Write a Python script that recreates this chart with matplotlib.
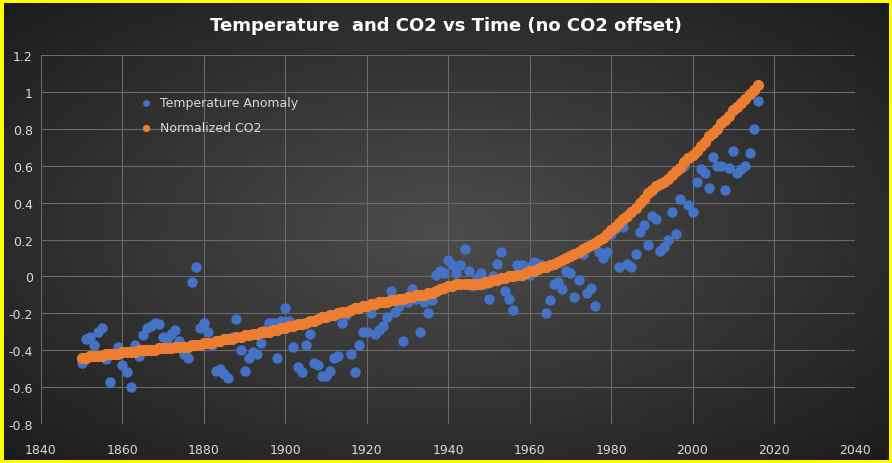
import matplotlib
matplotlib.use("Agg")
import matplotlib.pyplot as plt
import numpy as np
from matplotlib.patches import Rectangle

years = list(range(1850, 2017))

temp_anomaly = [
    -0.47, -0.34, -0.33, -0.37, -0.30, -0.28, -0.45, -0.57, -0.42, -0.38,
    -0.48, -0.52, -0.60, -0.37, -0.43, -0.32, -0.28, -0.27, -0.25, -0.26,
    -0.33, -0.34, -0.31, -0.29, -0.35, -0.42, -0.44, -0.03, 0.05, -0.28,
    -0.25, -0.30, -0.37, -0.51, -0.50, -0.53, -0.55, -0.33, -0.23, -0.40,
    -0.51, -0.44, -0.41, -0.42, -0.36, -0.29, -0.25, -0.25, -0.44, -0.24,
    -0.17, -0.24, -0.38, -0.49, -0.52, -0.37, -0.31, -0.47, -0.48, -0.54,
    -0.54, -0.51, -0.44, -0.43, -0.25, -0.21, -0.42, -0.52, -0.37, -0.30,
    -0.30, -0.20, -0.31, -0.29, -0.27, -0.22, -0.08, -0.19, -0.16, -0.35,
    -0.14, -0.07, -0.12, -0.30, -0.14, -0.20, -0.13, 0.01, 0.03, 0.02,
    0.09, 0.06, 0.02, 0.06, 0.15, 0.03, -0.05, -0.01, 0.02, -0.04,
    -0.12, 0.00, 0.07, 0.13, -0.08, -0.12, -0.18, 0.06, 0.06, 0.05,
    0.01, 0.08, 0.07, 0.06, -0.20, -0.13, -0.04, -0.03, -0.07, 0.03,
    0.02, -0.11, -0.02, 0.12, -0.09, -0.06, -0.16, 0.13, 0.10, 0.13,
    0.23, 0.26, 0.05, 0.27, 0.07, 0.05, 0.12, 0.24, 0.28, 0.17,
    0.33, 0.31, 0.14, 0.16, 0.20, 0.35, 0.23, 0.42, 0.60, 0.39,
    0.35, 0.51, 0.58, 0.56, 0.48, 0.65, 0.60, 0.60, 0.47, 0.59,
    0.68, 0.56, 0.58, 0.60, 0.67, 0.80, 0.95,
]

co2_norm = [
    -0.44, -0.44, -0.43, -0.43, -0.43, -0.43, -0.42, -0.42, -0.42, -0.42,
    -0.41, -0.41, -0.41, -0.41, -0.40, -0.40, -0.40, -0.40, -0.40, -0.39,
    -0.39, -0.39, -0.39, -0.38, -0.38, -0.38, -0.38, -0.37, -0.37, -0.37,
    -0.36, -0.36, -0.36, -0.35, -0.35, -0.34, -0.34, -0.34, -0.33, -0.33,
    -0.32, -0.32, -0.31, -0.31, -0.30, -0.30, -0.30, -0.29, -0.29, -0.28,
    -0.28, -0.27, -0.27, -0.26, -0.26, -0.25, -0.24, -0.24, -0.23, -0.22,
    -0.22, -0.21, -0.21, -0.20, -0.19, -0.19, -0.18, -0.17, -0.17, -0.16,
    -0.16, -0.15, -0.15, -0.14, -0.14, -0.14, -0.13, -0.13, -0.12, -0.12,
    -0.11, -0.11, -0.10, -0.10, -0.10, -0.09, -0.09, -0.08, -0.07, -0.06,
    -0.05, -0.05, -0.04, -0.04, -0.04, -0.04, -0.04, -0.04, -0.04, -0.03,
    -0.03, -0.02, -0.02, -0.01, -0.01, 0.00, 0.00, 0.01, 0.01, 0.02,
    0.03, 0.03, 0.04, 0.05, 0.05, 0.06, 0.07, 0.08, 0.09, 0.10,
    0.11, 0.12, 0.13, 0.15, 0.16, 0.17, 0.18, 0.20, 0.21, 0.23,
    0.25, 0.27, 0.29, 0.31, 0.33, 0.35, 0.37, 0.40, 0.42, 0.45,
    0.47, 0.49, 0.50, 0.51, 0.53, 0.55, 0.57, 0.59, 0.62, 0.64,
    0.66, 0.68, 0.71, 0.73, 0.76, 0.78, 0.80, 0.83, 0.85, 0.87,
    0.90, 0.92, 0.94, 0.96, 0.99, 1.01, 1.04,
]

x_ticks = list(range(1840, 2041, 20))
y_ticks = [round(-0.8 + 0.2 * i, 1) for i in range(11)]

fig = plt.figure(figsize=(8.92, 4.64), dpi=100)
fig.patch.set_facecolor("#2a2a2a")

# radial gradient background
bg = fig.add_axes([0, 0, 1, 1], zorder=-10)
gx, gy = np.meshgrid(np.linspace(-1, 1, 300), np.linspace(-1, 1, 160))
r = np.sqrt(gx ** 2 + gy ** 2) / np.sqrt(2)
bg.imshow(0.30 - 0.19 * r, cmap="gray", vmin=0, vmax=1, aspect="auto", extent=[0, 1, 0, 1])
bg.axis("off")
fig.patches.append(Rectangle((0, 0), 1, 1, transform=fig.transFigure, fill=False,
                             edgecolor="#ffff00", linewidth=5, zorder=10))

ax = fig.add_axes([0.046, 0.084, 0.913, 0.795])
ax.patch.set_alpha(0)
ax.scatter(years, temp_anomaly, s=42, color="#4472c4", label="Temperature Anomaly", zorder=3)
ax.scatter(years, co2_norm, s=50, color="#ed7d31", label="Normalized CO2", zorder=4)

ax.set_xlim(1840, 2040)
ax.set_ylim(-0.8, 1.2)
ax.set_xticks(x_ticks)
ax.set_yticks(y_ticks)
ax.set_yticklabels([f"{v:g}" for v in y_ticks])
ax.grid(True, color="#6a6a6a", linewidth=0.8)
ax.set_axisbelow(True)
for s in ax.spines.values():
    s.set_visible(False)
ax.tick_params(colors="#d9d9d9", labelsize=9, length=0)
ax.tick_params(axis="x", pad=14)
ax.tick_params(axis="y", pad=6)

ax.legend(loc="upper left", bbox_to_anchor=(0.1, 0.92), frameon=False, labelcolor="#d9d9d9",
          fontsize=9, handletextpad=0.1, markerscale=0.6, labelspacing=1.0)

fig.text(0.5, 0.945, "Temperature  and CO2 vs Time (no CO2 offset)", ha="center", va="center",
         color="white", fontsize=13, fontweight="bold")

fig.savefig("out.png", dpi=100, facecolor=fig.get_facecolor())
